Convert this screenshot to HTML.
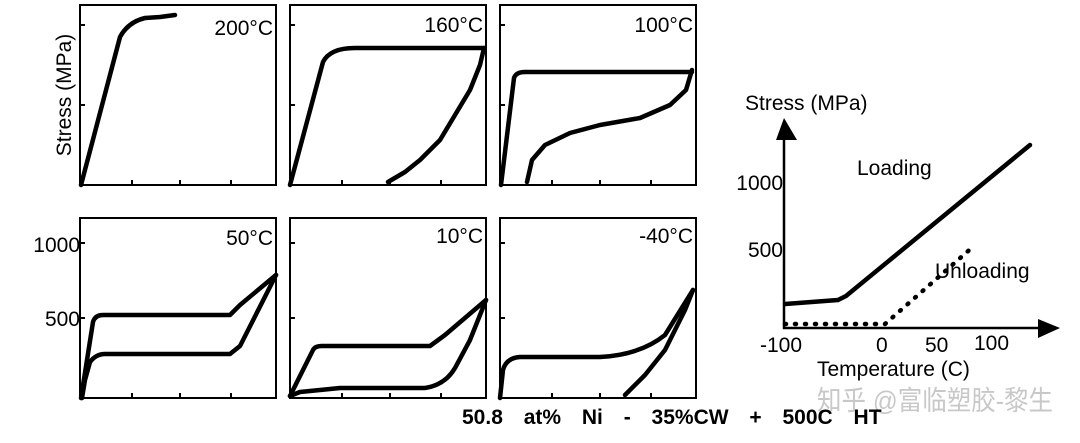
<!DOCTYPE html>
<html><head><meta charset="utf-8"><style>
html,body{margin:0;padding:0;background:#fff;}
svg{display:block;font-family:"Liberation Sans","Noto Sans CJK SC",sans-serif;}
</style></head><body>
<svg width="1080" height="443" viewBox="0 0 1080 443" xmlns="http://www.w3.org/2000/svg">
<g fill="none" stroke="#000" stroke-width="2">
<rect x="80" y="5" width="196" height="180"/>
<rect x="290" y="5" width="196" height="180"/>
<rect x="500" y="5" width="196" height="180"/>
<rect x="80" y="218" width="196" height="180"/>
<rect x="290" y="218" width="196" height="180"/>
<rect x="500" y="218" width="196" height="180"/>
<path d="M132 185v-5M180 185v-5M231 185v-5M80 25h5M80 105h5
M342 185v-5M390 185v-5M441 185v-5M290 25h5M290 105h5
M552 185v-5M600 185v-5M651 185v-5M500 25h5M500 105h5
M132 398v-5M180 398v-5M231 398v-5M80 243h5M80 318h5
M342 398v-5M390 398v-5M441 398v-5M290 243h5M290 318h5
M552 398v-5M600 398v-5M651 398v-5M500 243h5M500 318h5"/>
</g>
<g fill="none" stroke="#000" stroke-width="4.5" stroke-linejoin="round" stroke-linecap="round">
<path d="M81 185L120 37Q128 22 145 18L160 17L175 15"/>
<path d="M290 185L323 62Q330 48 355 48L484 48"/>
<path d="M484 48L480 65L470 90L455 115L440 140L420 160L405 172L388 182"/>
<path d="M501 185L514 78Q516 72 525 72L692 72"/>
<path d="M692 70L686 90L670 105L640 118L600 125L570 133L545 145L532 160L527 182"/>
<path d="M81 398L93 322Q95 315 103 315L230 315L240 305L276 275"/>
<path d="M276 275L240 346L230 354L105 354Q96 354 90 362L85 380L82 398"/>
<path d="M290 396L313 350Q315 346 322 346L430 346L445 335L486 300"/>
<path d="M486 300L470 340L455 368Q445 385 425 388L340 388L300 392L290 396"/>
<path d="M500 398L503 370Q506 358 520 357L600 357Q640 355 665 335L693 290"/>
<path d="M693 290L685 310L665 350L645 375L625 395"/>
<path d="M785 304L838 300L846 296L1030 145"/>
</g>
<path d="M785 324L885 324L975 245" fill="none" stroke="#000" stroke-width="4.5" stroke-dasharray="1 9" stroke-linecap="round"/>
<path d="M784 140V328H1040" fill="none" stroke="#000" stroke-width="2.5"/>
<path d="M776 140L784 118L797 140Z M1038 319L1060 328L1038 338Z" fill="#000"/>
<g font-size="21" fill="#000">
<text x="273" y="35" text-anchor="end">200°C</text>
<text x="483" y="32" text-anchor="end">160°C</text>
<text x="693" y="32" text-anchor="end">100°C</text>
<text x="273" y="245" text-anchor="end">50°C</text>
<text x="483" y="243" text-anchor="end">10°C</text>
<text x="693" y="243" text-anchor="end">-40°C</text>
<text transform="translate(71,95) rotate(-90)" text-anchor="middle">Stress (MPa)</text>
<text x="80" y="252" text-anchor="end">1000</text>
<text x="80" y="326" text-anchor="end">500</text>
<text x="745" y="110">Stress (MPa)</text>
<text x="783" y="190" text-anchor="end">1000</text>
<text x="783" y="257" text-anchor="end">500</text>
<text x="857" y="175">Loading</text>
<text x="935" y="278">Unloading</text>
<text x="760" y="352">-100</text>
<text x="876" y="352">0</text>
<text x="925" y="352">50</text>
<text x="974" y="350">100</text>
<text x="817" y="376">Temperature (C)</text>
</g>
<text x="817" y="410" font-size="27" fill="#c8c8c8" textLength="236" lengthAdjust="spacingAndGlyphs">知乎 @富临塑胶-黎生</text>
<text x="462" y="424" font-size="21" font-weight="bold" fill="#000" word-spacing="15">50.8 at% Ni - 35%CW + 500C HT</text>
</svg>
</body></html>
